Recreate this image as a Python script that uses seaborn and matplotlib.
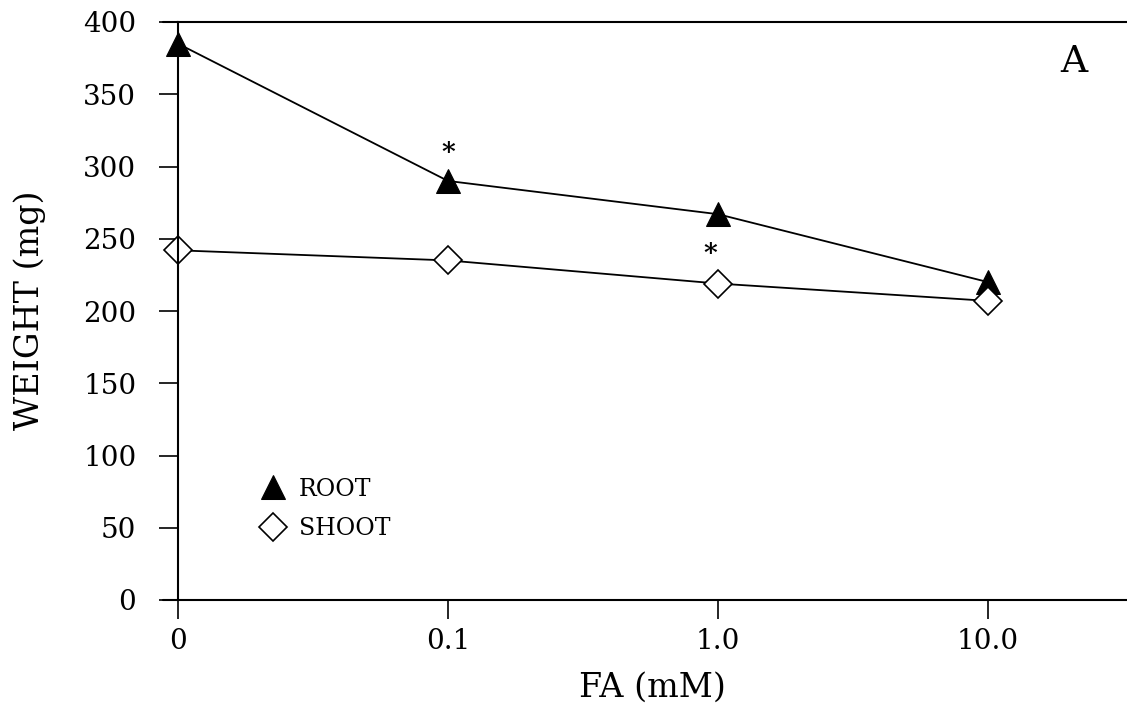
import matplotlib
matplotlib.use("Agg")
import matplotlib.pyplot as plt
import seaborn as sns
import pandas as pd
import numpy as np

# Data
conc_labels = ["0", "0.1", "1.0", "10.0"]
root_weight = [385, 290, 267, 220]
shoot_weight = [242, 235, 219, 207]
y_ticks = [0, 50, 100, 150, 200, 250, 300, 350, 400]
star_positions = [1, 2]
star_values = [310, 240]

sns.set_theme(style="ticks")
plt.rcParams['font.family'] = ['DejaVu Serif']
plt.rcParams['text.color'] = 'black'
plt.rcParams['axes.labelcolor'] = 'black'

df = pd.DataFrame({
    "idx": list(range(len(conc_labels))) * 2,
    "weight": root_weight + shoot_weight,
    "part": ["ROOT"] * len(conc_labels) + ["SHOOT"] * len(conc_labels),
})

fig = plt.figure(figsize=(11.27, 7.09), dpi=100)
ax = fig.add_axes([178 / 1127, 1 - 600 / 709, (1127 - 178) / 1127, (600 - 22) / 709])

root_df = df[df.part == "ROOT"]
shoot_df = df[df.part == "SHOOT"]
sns.lineplot(data=root_df, x="idx", y="weight", ax=ax, color="black", lw=1.3,
             marker="^", markersize=17, markerfacecolor="black", markeredgecolor="black",
             label="ROOT", legend=False, clip_on=False)
sns.lineplot(data=shoot_df, x="idx", y="weight", ax=ax, color="black", lw=1.3,
             marker="D", markersize=14, markerfacecolor="white", markeredgecolor="black",
             markeredgewidth=1.2, label="SHOOT", legend=False, clip_on=False)

for xp, yv in zip(star_positions, star_values):
    ax.text(xp - (0.03 if xp == 2 else 0), yv, "*", ha="center", va="center",
            fontsize=19, fontweight="bold", color="black")

ax.set_xlim(0, (1127 - 178) / 270)
ax.set_ylim(0, 400)
ax.set_xticks(range(len(conc_labels)))
ax.set_xticklabels(conc_labels)
ax.set_yticks(y_ticks)
ax.tick_params(axis="both", direction="out", length=14, width=1.2, labelsize=20,
               color="black", labelcolor="black")
ax.tick_params(axis="y", pad=16)
ax.tick_params(axis="x", pad=6)

for s in ["left", "bottom", "top"]:
    ax.spines[s].set_linewidth(1.5)
    ax.spines[s].set_color("black")
ax.spines["right"].set_visible(False)
# extend top and bottom spines slightly to the left
for yy in (0, 1):
    ax.plot([-15 / 949, 0], [yy, yy], transform=ax.transAxes, color="black",
            lw=1.5, clip_on=False)

ax.set_xlabel("FA (mM)", fontsize=24, va="center")
ax.set_ylabel("WEIGHT (mg)", fontsize=24, va="center")
ax.xaxis.set_label_coords((652 - 178) / 949, (600 - 688) / 578)
ax.yaxis.set_label_coords((30 - 178) / 949, (600 - 310) / 578)

ax.text((1074 - 178) / 949, (600 - 62) / 578, "A", transform=ax.transAxes,
        fontsize=27, ha="center", va="center")

leg = ax.legend(loc="center left", bbox_to_anchor=(0.065, (600 - 509) / 578), frameon=False,
                fontsize=17, handlelength=1.0, handletextpad=0.6, labelspacing=0.7)
for h in leg.legend_handles:
    h.set_linestyle("none")

fig.savefig("out.png", dpi=100, facecolor="white")
